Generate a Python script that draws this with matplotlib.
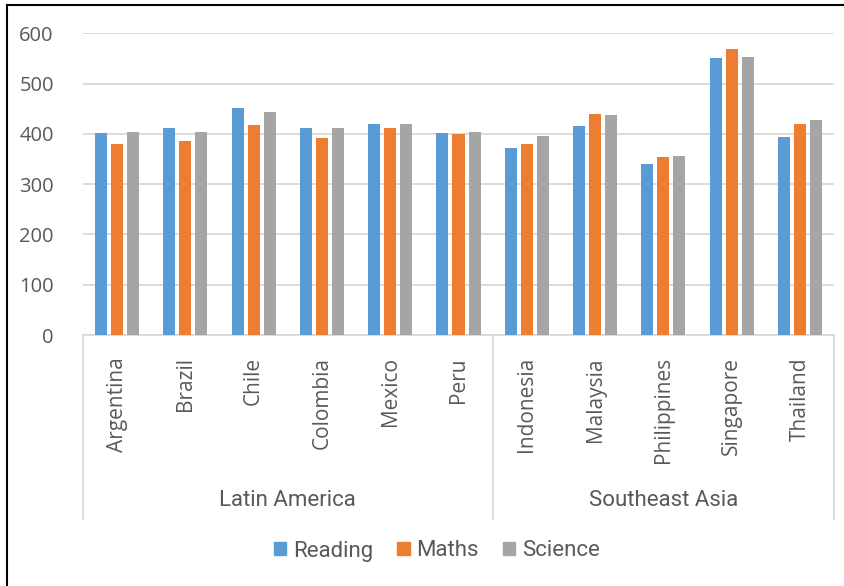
import numpy as np
import matplotlib
matplotlib.use("Agg")
import matplotlib.pyplot as plt
from matplotlib.lines import Line2D
from matplotlib.patches import Patch

countries = ["Argentina", "Brazil", "Chile", "Colombia", "Mexico", "Peru",
             "Indonesia", "Malaysia", "Philippines", "Singapore", "Thailand"]
regions = ["Latin America", "Southeast Asia"]
region_sizes = [6, 5]
reading = [401, 412, 452, 412, 420, 401, 371, 415, 340, 551, 393]
maths = [379, 385, 417, 392, 411, 400, 379, 439, 354, 569, 419]
science = [404, 404, 444, 412, 419, 404, 396, 437, 357, 552, 427]

series = [("Reading", reading, "#5B9BD5"),
          ("Maths", maths, "#ED7D31"),
          ("Science", science, "#A5A5A5")]

TXT = "#595959"
GRID = "#D9D9D9"
BODY = ["Open Sans", "DejaVu Sans"]
NARROW = ["Roboto", "DejaVu Sans"]

fig = plt.figure(figsize=(8.45, 5.86), dpi=100)
ax = fig.add_axes([0.0982, 0.4283, 0.8888, 0.5148])

x = np.arange(len(countries))
bw, step = 0.176, 0.235
for i, (name, vals, col) in enumerate(series):
    ax.bar(x + (i - 1) * step, vals, width=bw, color=col, label=name, zorder=3)

ax.set_xlim(-0.5, len(countries) - 0.5)
ax.set_ylim(0, 600)
ax.set_yticks(range(0, 601, 100))
ax.yaxis.grid(True, color=GRID, lw=1.3, zorder=0)
for s in ["top", "right", "left"]:
    ax.spines[s].set_visible(False)
ax.spines["bottom"].set_color(GRID)
ax.spines["bottom"].set_linewidth(1.3)
ax.tick_params(axis="y", length=0, pad=21, labelcolor=TXT, labelsize=14.5)
ax.tick_params(axis="x", length=0, pad=16, labelcolor=TXT, labelsize=15)
for t in ax.get_yticklabels():
    t.set_family(BODY)
ax.set_xticks(x)
ax.set_xticklabels(countries, rotation=90, family=BODY, va="top")

# region separators and group labels under the category axis
depth = -0.61
edges = np.concatenate([[0], np.cumsum(region_sizes)]) - 0.5
trans = ax.get_xaxis_transform()
for e in edges:
    ax.add_line(Line2D([e, e], [0, depth], transform=trans, color=GRID,
                       lw=1.3, clip_on=False))
for r, a, b in zip(regions, edges[:-1], edges[1:]):
    ax.text((a + b) / 2, -0.55, r, transform=trans, ha="center", va="center",
            fontsize=16, color=TXT, family=NARROW)

handles = [Patch(color=c, label=n) for n, _, c in series]
leg = fig.legend(handles=handles, loc="center", bbox_to_anchor=(437 / 845, 1 - 551 / 586),
                 ncol=3, frameon=False, handlelength=0.55, handleheight=0.55,
                 handletextpad=0.3, columnspacing=1.1,
                 prop={"family": NARROW, "size": 16})
for t in leg.get_texts():
    t.set_color(TXT)

# thin frame on the left and top edge
fig.add_artist(Line2D([7 / 845, 7 / 845], [0, 1 - 5 / 586], transform=fig.transFigure,
                      color="black", lw=1.5))
fig.add_artist(Line2D([7 / 845, 1], [1 - 5 / 586, 1 - 5 / 586], transform=fig.transFigure,
                      color="black", lw=1.5))

fig.savefig("out.png", dpi=100)
